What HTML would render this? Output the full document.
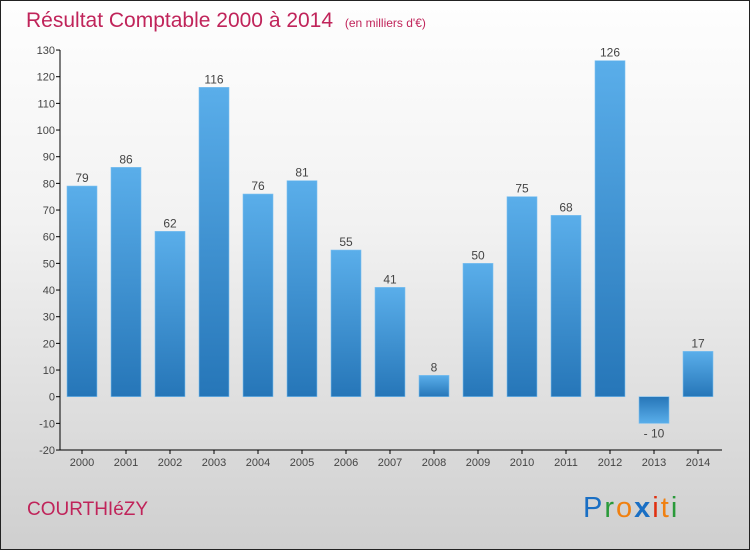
<!DOCTYPE html>
<html><head><meta charset="utf-8"><style>
body{margin:0;}
#wrap{position:relative;width:748px;height:548px;border:1px solid #222;background:linear-gradient(#fefefe,#f2f2f2 40%,#cfcfcf);font-family:"Liberation Sans",sans-serif;overflow:hidden}
</style></head><body>
<div id="wrap">
<svg id="svg" width="748" height="548">
<defs>
<linearGradient id="gp" x1="0" y1="0" x2="0" y2="1"><stop offset="0" stop-color="#5aaeea"/><stop offset="1" stop-color="#2676b8"/></linearGradient>
<linearGradient id="gn" x1="0" y1="0" x2="0" y2="1"><stop offset="0" stop-color="#2676b8"/><stop offset="1" stop-color="#5aaeea"/></linearGradient>
</defs>
<text x="25" y="26" font-size="21" fill="#c0245a">Résultat Comptable 2000 à 2014 <tspan font-size="12" dx="6">(en milliers d'€)</tspan></text>
<text x="26" y="514" font-size="19" fill="#c0245a">COURTHIéZY</text>
<text x="582" y="516" font-size="29" letter-spacing="2"><tspan fill="#1a6fc4">P</tspan><tspan fill="#2a9a3a">r</tspan><tspan fill="#f08010">o</tspan><tspan fill="#1a6fc4" font-weight="bold">x</tspan><tspan fill="#e03010">i</tspan><tspan fill="#f08010">t</tspan><tspan fill="#2a9a3a">i</tspan></text>
<g id="g"></g>
</svg>
</div>
<script>
const years=["2000","2001","2002","2003","2004","2005","2006","2007","2008","2009","2010","2011","2012","2013","2014"];
const values=[79,86,62,116,76,81,55,41,8,50,75,68,126,-10,17];
const yTicks=[-20,-10,0,10,20,30,40,50,60,70,80,90,100,110,120,130];
const NS="http://www.w3.org/2000/svg";
const g=document.getElementById('g');
const y=v=>395.7-(v)*400/150;
const x=i=>81+i*44;
function mk(t,a){const e=document.createElementNS(NS,t);for(const k in a)e.setAttribute(k,a[k]);g.appendChild(e);return e;}
let e=mk('line',{x1:59,y1:y(130),x2:59,y2:y(-20),stroke:'#000'});

e=mk('line',{x1:59,y1:y(-20),x2:721,y2:y(-20),stroke:'#000'});

yTicks.forEach(t=>{
 const l=mk('line',{x1:55,y1:y(t),x2:59,y2:y(t),stroke:'#000'});
 
 const tx=mk('text',{x:54,y:y(t)+4,'font-size':11,fill:'#444','text-anchor':'end'});tx.textContent=t;
 
});
years.forEach((yr,i)=>{
 const v=values[i];
 const r=mk('rect',{x:x(i)-15,y:Math.min(y(v),y(0)),width:30,height:Math.abs(y(v)-y(0)),fill:v>=0?'url(#gp)':'url(#gn)',stroke:'#7cc0f0','stroke-width':0.6});
 
 const lb=mk('text',{x:x(i),y:v>=0?y(v)-4:y(v)+14,'font-size':12,fill:'#444','text-anchor':'middle'});lb.textContent=v<0?'- '+Math.abs(v):v;
 
 const tk=mk('line',{x1:x(i),y1:y(-20),x2:x(i),y2:y(-20)+4,stroke:'#000'});
 
 const xl=mk('text',{x:x(i),y:y(-20)+16,'font-size':11,fill:'#444','text-anchor':'middle'});xl.textContent=yr;
 
});
</script>
</body></html>
